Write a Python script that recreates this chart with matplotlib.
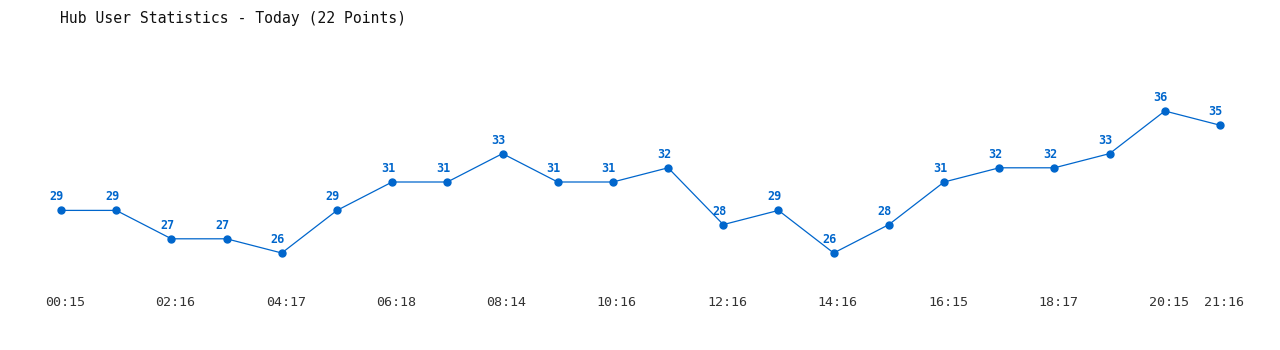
import matplotlib
matplotlib.use("Agg")
import matplotlib.pyplot as plt
import matplotlib.transforms as mtransforms

values = [29, 29, 27, 27, 26, 29, 31, 31, 33, 31, 31, 32, 28, 29, 26, 28, 31, 32, 32, 33, 36, 35]
tick_idx = [0, 2, 4, 6, 8, 10, 12, 14, 16, 18, 20, 21]
tick_labels = ["00:15", "02:16", "04:17", "06:18", "08:14", "10:16",
               "12:16", "14:16", "16:15", "18:17", "20:15", "21:16"]

W, H = 1280, 350
fig = plt.figure(figsize=(W / 100, H / 100), dpi=100)
ax = fig.add_axes([61 / W, 1 - 253 / H, (1220 - 61) / W, (253 - 111) / H])

blue = "#0066cc"
x = list(range(len(values)))
ax.plot(x, values, color=blue, lw=0.9, marker="o", ms=5, clip_on=False)
for xi, v in zip(x, values):
    ax.annotate(str(v), (xi, v), xytext=(-3, 5), textcoords="offset points",
                ha="center", va="bottom", fontsize=8.5, fontweight="bold",
                color=blue, family="DejaVu Sans Mono")

ax.set_xlim(0, 21)
ax.set_ylim(26, 36)
ax.set_xticks(tick_idx)
ax.set_xticklabels(tick_labels, family="DejaVu Sans Mono", fontsize=9.6, color="#333333")
ax.tick_params(axis="x", length=0, pad=31)
ax.set_yticks([])
for s in ax.spines.values():
    s.set_visible(False)
shift = mtransforms.ScaledTranslation(4 / 100, 0, fig.dpi_scale_trans)
for t in ax.get_xticklabels():
    t.set_transform(t.get_transform() + shift)

fig.text(60 / W, 1 - 18 / H, "Hub User Statistics - Today (22 Points)",
         family="DejaVu Sans Mono", fontsize=10.6, color="#111111", va="center", ha="left")

fig.savefig("out.png", dpi=100, facecolor="white")
